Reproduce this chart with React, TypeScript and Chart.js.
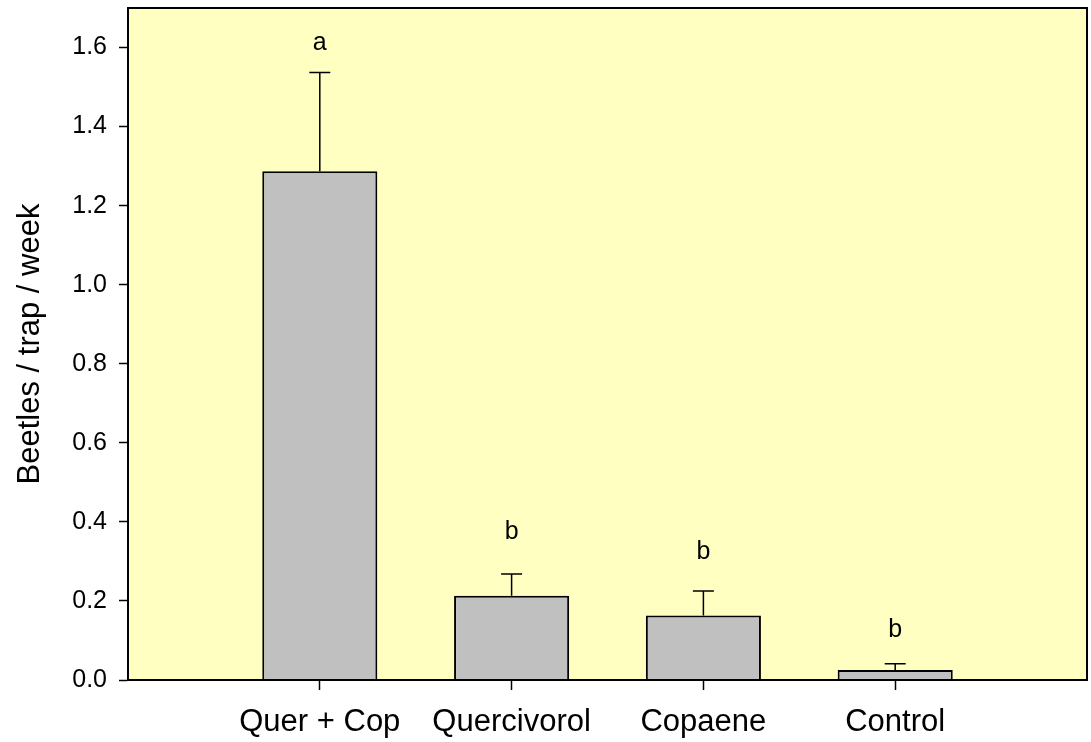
import React, { useEffect, useRef } from "react";
import { Chart, registerables } from "chart.js";

Chart.register(...registerables);

const categories = ["Quer + Cop", "Quercivorol", "Copaene", "Control"];
const means = [1.287, 0.213, 0.163, 0.025];
const errTops = [1.537, 0.268, 0.225, 0.041];
const letters = ["a", "b", "b", "b"];
const letterY = [1.612, 0.374, 0.324, 0.127];
const yTicks = [0, 0.2, 0.4, 0.6, 0.8, 1.0, 1.2, 1.4, 1.6];

const FONT = "'Liberation Sans', Arial, sans-serif";

const decorPlugin = {
  id: "decor",
  beforeDraw(chart: any) {
    const { ctx, chartArea } = chart;
    ctx.save();
    ctx.fillStyle = "#FFFFC2";
    ctx.fillRect(chartArea.left, chartArea.top, chartArea.right - chartArea.left, chartArea.bottom - chartArea.top);
    ctx.restore();
  },
  afterDatasetsDraw(chart: any) {
    const { ctx, chartArea, scales } = chart;
    const xs = scales.x;
    const ys = scales.y;
    ctx.save();
    ctx.strokeStyle = "#000";
    ctx.lineWidth = 1.5;
    means.forEach((m, i) => {
      const px = xs.getPixelForValue(i + 1);
      const y0 = ys.getPixelForValue(m);
      const y1 = ys.getPixelForValue(errTops[i]);
      ctx.beginPath();
      ctx.moveTo(px, y0);
      ctx.lineTo(px, y1);
      ctx.moveTo(px - 10.5, y1);
      ctx.lineTo(px + 10.5, y1);
      ctx.stroke();
    });
    ctx.fillStyle = "#000";
    ctx.font = `25px ${FONT}`;
    ctx.textAlign = "center";
    ctx.textBaseline = "middle";
    letters.forEach((l, i) => {
      ctx.fillText(l, xs.getPixelForValue(i + 1), ys.getPixelForValue(letterY[i]));
    });
    ctx.lineWidth = 2;
    ctx.strokeRect(chartArea.left, chartArea.top, chartArea.right - chartArea.left, chartArea.bottom - chartArea.top);
    ctx.restore();
  },
};

export default function App() {
  const ref = useRef<HTMLCanvasElement>(null);
  useEffect(() => {
    document.body.style.margin = "0";
    const canvas = ref.current!;
    const chart = new Chart(canvas, {
      type: "bar",
      data: {
        datasets: [
          {
            data: means.map((m, i) => ({ x: i + 1, y: m })),
            backgroundColor: "#C0C0C0",
            borderColor: "#000",
            borderWidth: 2,
            barPercentage: 0.75,
            categoryPercentage: 0.8,
          },
        ],
      },
      options: {
        responsive: false,
        animation: false,
        devicePixelRatio: 1,
        layout: { padding: { left: 0, top: 8, right: 4, bottom: 0 } },
        plugins: { legend: { display: false }, tooltip: { enabled: false } },
        scales: {
          x: {
            type: "linear",
            min: 0,
            max: 5,
            offset: false,
            afterBuildTicks: (s: any) => {
              s.ticks = categories.map((_, i) => ({ value: i + 1 }));
            },
            afterFit: (s: any) => {
              s.height = 62;
              s.paddingLeft = 0;
              s.paddingRight = 0;
            },
            grid: {
              offset: false,
              drawOnChartArea: false,
              drawTicks: true,
              tickLength: 10,
              tickColor: "#000",
              tickWidth: 1.5,
            },
            border: { display: true, color: "#000", width: 1.5 },
            ticks: {
              color: "#000",
              font: { family: FONT, size: 31 },
              padding: 14,
              maxRotation: 0,
              autoSkip: false,
              callback: (v: any) => categories[Math.round(v) - 1] ?? "",
            },
          },
          y: {
            type: "linear",
            min: 0,
            max: 1.7,
            afterBuildTicks: (s: any) => {
              s.ticks = yTicks.map((v) => ({ value: v }));
            },
            afterFit: (s: any) => {
              s.width = 128;
              s.paddingTop = 0;
              s.paddingBottom = 0;
            },
            grid: {
              drawOnChartArea: false,
              drawTicks: true,
              tickLength: 9,
              tickColor: "#000",
              tickWidth: 1.5,
            },
            border: { display: true, color: "#000", width: 1.5 },
            ticks: {
              color: "#000",
              font: { family: FONT, size: 25 },
              padding: 12,
              callback: (v: any) => Number(v).toFixed(1),
            },
            title: {
              display: true,
              text: "Beetles / trap / week",
              color: "#000",
              font: { family: FONT, size: 31, lineHeight: 1.2 },
              padding: { top: 12, bottom: 0 },
            },
          },
        },
      },
      plugins: [decorPlugin],
    });
    return () => chart.destroy();
  }, []);
  return <canvas ref={ref} width={1091} height={742} style={{ display: "block" }} />;
}
